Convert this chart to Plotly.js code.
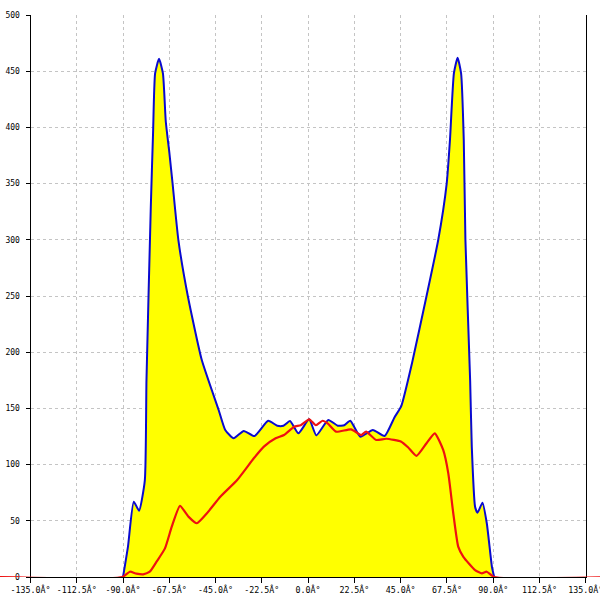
<!DOCTYPE html>
<html>
<head>
<meta charset="utf-8">
<script src="https://cdn.plot.ly/plotly-3.0.1.min.js"></script>
<style>html,body{margin:0;padding:0;background:#fff}#chart{width:600px;height:600px}</style>
</head>
<body>
<div id="chart"></div>
<script>
// Envelope (blue line, yellow fill)
const blueAngles = [-90, -87.6, -84.8, -82.2, -79.4, -78.6, -76.5, -75.4, -74.4, -72.5, -70.6, -69.2, -67.5, -65.9, -63.1, -58.5, -51.7, -43.5, -40.3, -36.2, -31.3, -26.1, -19.4, -15, -12, -8.8, -4.7, 0.5, 4, 9.8, 14.4, 17.6, 20.5, 25.4, 31.5, 37.2, 42, 45.3, 50.5, 57.6, 63.3, 67.4, 69, 70.9, 72.7, 74.4, 75.7, 76.5, 78.8, 79.6, 81.2, 82.4, 84.8, 86.9, 89.4, 90.5];
const blueCounts = [0, 27, 67, 59, 86, 175, 329, 395, 448, 461, 448, 405, 378, 350, 300, 250, 193, 148.6, 130.8, 123.4, 130, 125.4, 139, 134.6, 134.6, 138.8, 127.8, 140.3, 126, 139.7, 134.6, 135, 139, 124.8, 130.8, 125.4, 142, 152, 190, 250, 300, 350, 389, 448, 462, 448, 389, 300, 175, 116, 62.5, 57.2, 66, 47.8, 9, 0];
// Red series
const redAngles = [-150, -90.3, -86.7, -83.5, -80.2, -77, -73.7, -69.6, -66.3, -62.3, -58.2, -54.1, -49.2, -42.7, -34.5, -26.4, -21.5, -15.8, -11.7, -6.8, -3.6, 0.5, 3.8, 7, 9.5, 13.6, 20.9, 25.8, 28.2, 33.1, 38, 45.3, 48.6, 52.7, 57.6, 61.6, 65.7, 68.2, 70.6, 73, 75.5, 81.2, 84.5, 86.9, 90.5, 150];
const redCounts = [0, 0, 4.7, 3, 2.4, 4.7, 13.6, 25.5, 44.8, 63.2, 53.7, 47.8, 56.7, 71.4, 86.3, 105.6, 116, 123.4, 126.3, 133.7, 135, 140.3, 135, 139, 136.7, 129.3, 131.4, 126.3, 129.3, 121.9, 123, 120.4, 115.4, 107.7, 119, 127.8, 113, 92, 56.7, 27, 18, 6.2, 3.3, 4.7, 0, 0];
const tickVals = [-135, -112.5, -90, -67.5, -45, -22.5, 0, 22.5, 45, 67.5, 90, 112.5, 135];
const tickLabels = ["-135.0Â°", "-112.5Â°", "-90.0Â°", "-67.5Â°", "-45.0Â°", "-22.5Â°", "0.0Â°", "22.5Â°", "45.0Â°", "67.5Â°", "90.0Â°", "112.5Â°", "135.0Â°"];
const yTicks = [0, 50, 100, 150, 200, 250, 300, 350, 400, 450, 500];

const W = 600;
const xDom = [30.5 / W, 585.7 / W];
const yDom = [1 - 577 / W, 1 - 15 / W];
const xRange = [-135, 135];
const pxPerDeg = (xDom[1] - xDom[0]) * W / (xRange[1] - xRange[0]);
const x2Range = [xRange[0] - xDom[0] * W / pxPerDeg, xRange[1] + (1 - xDom[1]) * W / pxPerDeg];

const font = {family: 'DejaVu Sans Mono, monospace', size: 8.3, color: '#000'};
const gridStyle = {showgrid: true, gridcolor: '#c4c4c4', griddash: '3px,3px', gridwidth: 1};

const traces = [
  {x: blueAngles, y: blueCounts, type: 'scatter', mode: 'lines', fill: 'tozeroy', fillcolor: '#ffff00',
   line: {color: '#0a0ad0', width: 2, shape: 'spline', smoothing: 0.5}, xaxis: 'x', yaxis: 'y', hoverinfo: 'skip'},
  {x: redAngles, y: redCounts, type: 'scatter', mode: 'lines', cliponaxis: false,
   line: {color: '#ee1111', width: 2.2, shape: 'spline', smoothing: 0.5}, xaxis: 'x2', yaxis: 'y2', hoverinfo: 'skip'}
];

const layout = {
  width: 600, height: 600,
  margin: {l: 0, r: 0, t: 0, b: 0},
  paper_bgcolor: '#fff', plot_bgcolor: 'rgba(0,0,0,0)',
  showlegend: false,
  xaxis: Object.assign({domain: xDom, range: xRange, anchor: 'y', tickmode: 'array', tickvals: tickVals, ticktext: tickLabels,
    showline: true, linecolor: '#000', linewidth: 1, ticks: 'outside', ticklen: 5, tickcolor: '#000', zeroline: false,
    tickfont: font, ticklabeloverflow: 'allow', fixedrange: true}, gridStyle),
  yaxis: Object.assign({domain: yDom, range: [0, 500], anchor: 'x', tickmode: 'array', tickvals: yTicks, ticktext: yTicks.map(String),
    showline: true, mirror: true, linecolor: '#000', linewidth: 1, ticks: 'outside', ticklen: 4, tickcolor: '#000', zeroline: false,
    tickfont: Object.assign({}, font, {size: 8}), ticklabelstandoff: 4, ticklabeloverflow: 'allow', fixedrange: true}, gridStyle),
  xaxis2: {domain: [0, 1], range: x2Range, anchor: 'y2', visible: false, showgrid: false, zeroline: false, fixedrange: true},
  yaxis2: {domain: yDom, range: [0, 500], anchor: 'x2', visible: false, showgrid: false, zeroline: false, fixedrange: true}
};

Plotly.newPlot('chart', traces, layout, {staticPlot: true, displayModeBar: false});
</script>
</body>
</html>
